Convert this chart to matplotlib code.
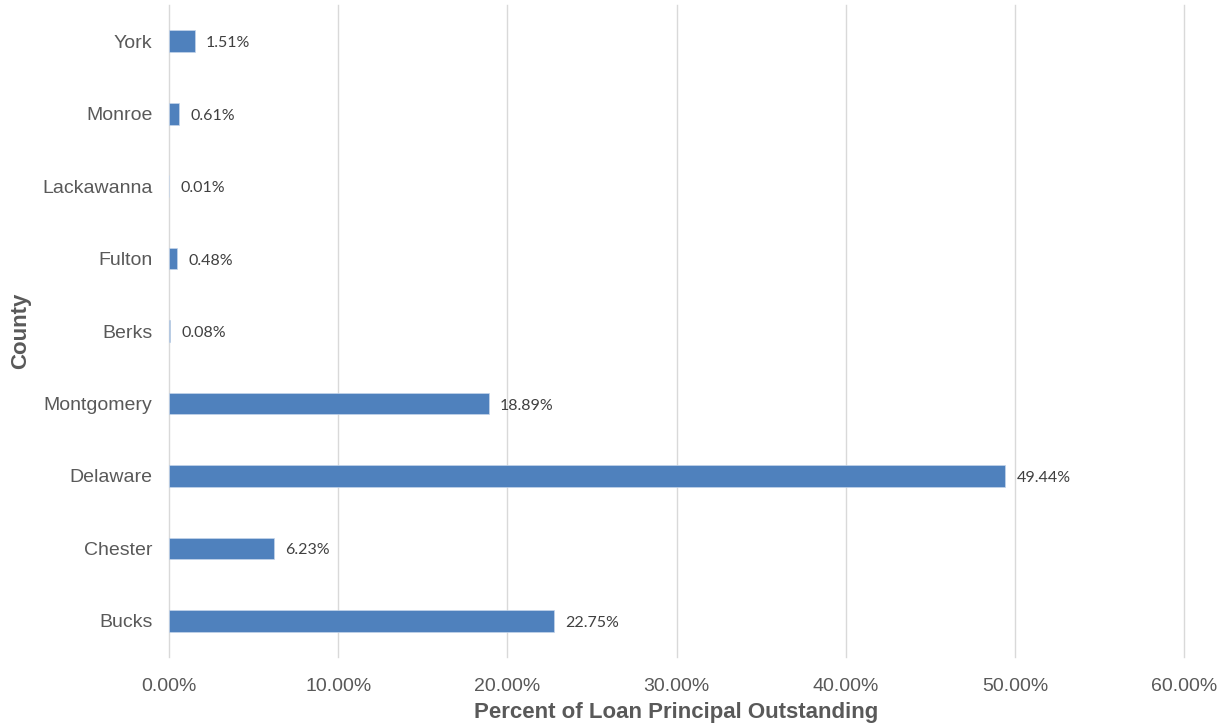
import numpy as np
import matplotlib.pyplot as plt
from matplotlib.ticker import FuncFormatter

# loan principal share by county, bottom to top
counties = ["Bucks", "Chester", "Delaware", "Montgomery", "Berks",
            "Fulton", "Lackawanna", "Monroe", "York"]
pct_outstanding = [22.75, 6.23, 49.44, 18.89, 0.08, 0.48, 0.01, 0.61, 1.51]
x_ticks = [0, 10, 20, 30, 40, 50, 60]

bar_color = "#4f81bd"
text_gray = "#595959"

plt.rcParams['font.family'] = ['Liberation Sans', 'DejaVu Sans']

fig = plt.figure(figsize=(12.28, 7.26), dpi=100)
ax = fig.add_axes([0.1376, 0.095, 0.8266, 0.898])

y = np.arange(len(counties))
bars = ax.barh(y, pct_outstanding, height=0.3, color=bar_color,
               edgecolor="#c5d5ea", linewidth=0.5, zorder=3)

for b, v in zip(bars, pct_outstanding):
    ax.annotate(f"{v:.2f}%", (b.get_width(), b.get_y() + b.get_height() / 2),
                xytext=(8, -1.5), textcoords="offset points", va="center", ha="left",
                fontsize=11.5, color="#404040", family=['Lato', 'DejaVu Sans'])

ax.set_xlim(0, 60)
ax.set_ylim(-0.5, len(counties) - 0.5)
ax.set_xticks(x_ticks)
ax.xaxis.set_major_formatter(FuncFormatter(lambda v, p: f"{v:.2f}%"))
ax.set_yticks(y)
ax.set_yticklabels(counties)
ax.tick_params(axis='both', length=0, labelsize=14, labelcolor=text_gray)
ax.tick_params(axis='y', pad=12)
ax.tick_params(axis='x', pad=15)

ax.grid(axis='x', color="#d9d9d9", linewidth=1.0, zorder=0)
# keep the edge gridlines whole
for gl in ax.get_xgridlines():
    gl.set_clip_on(False)
for s in ax.spines.values():
    s.set_visible(False)

ax.set_xlabel("Percent of Loan Principal Outstanding", fontsize=16,
              fontweight='bold', color=text_gray, labelpad=5)
ax.set_ylabel("County", fontsize=16, fontweight='bold', color=text_gray, labelpad=8)

fig.savefig("out.png", dpi=100)
